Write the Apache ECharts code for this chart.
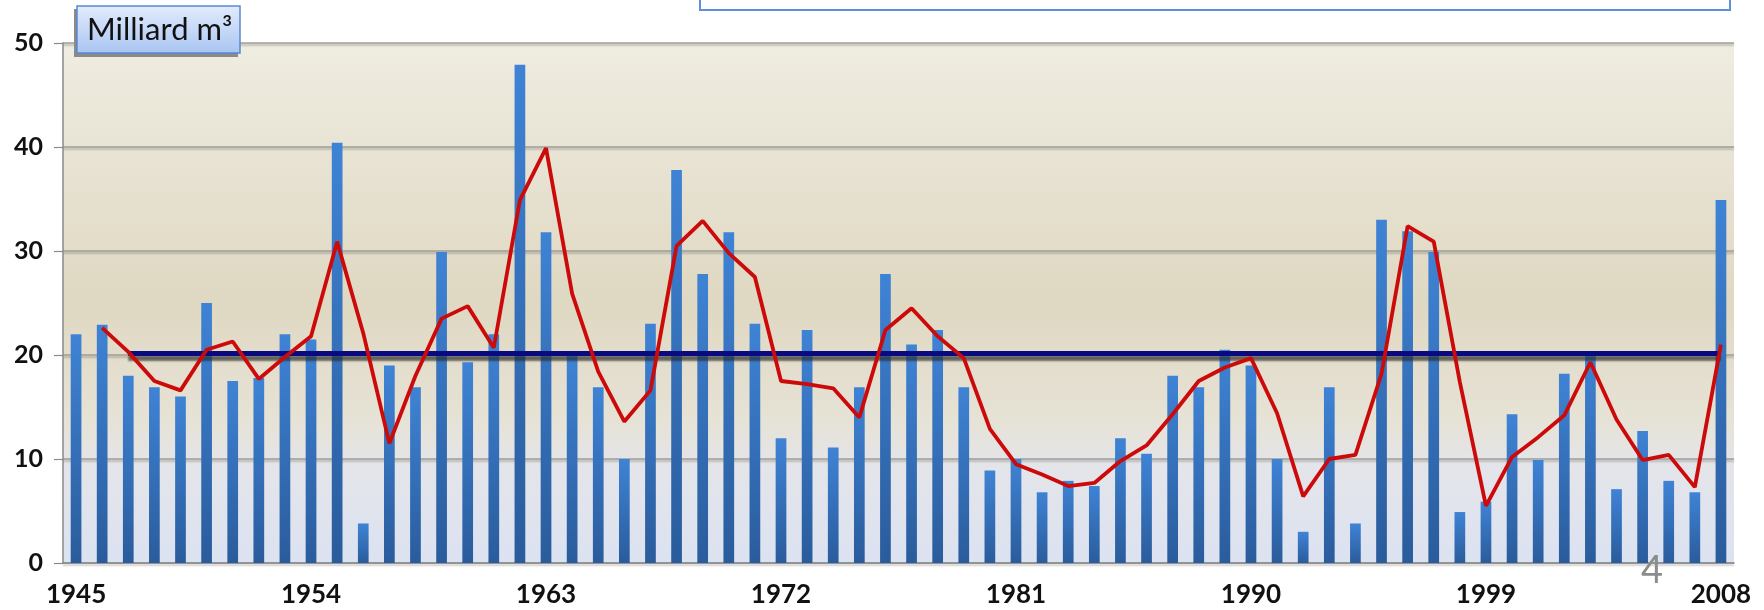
<!DOCTYPE html>
<html>
<head>
<meta charset="utf-8">
<script src="https://cdn.jsdelivr.net/npm/echarts@6/dist/echarts.min.js"></script>
<style>
  html, body { margin: 0; padding: 0; background: #ffffff; }
  #chart { width: 1764px; height: 610px; }
</style>
</head>
<body>
<div id="chart"></div>
<script>
// 年份
const years = []
for (let y = 1945; y <= 2008; y++) years.push(String(y))
// 年径流量（柱）
const flowValues = [
  22.0, 22.9, 18.0, 16.9, 16.0, 25.0, 17.5, 17.8, 22.0, 21.5,
  40.4, 3.8, 19.0, 16.9, 29.9, 19.3, 22.0, 47.9, 31.8, 20.0,
  16.9, 10.0, 23.0, 37.8, 27.8, 31.8, 23.0, 12.0, 22.4, 11.1,
  16.9, 27.8, 21.0, 22.4, 16.9, 8.9, 10.0, 6.8, 7.9, 7.4,
  12.0, 10.5, 18.0, 16.9, 20.5, 19.0, 10.0, 3.0, 16.9, 3.8,
  33.0, 31.9, 29.9, 4.9, 5.9, 14.3, 9.9, 18.2, 20.2, 7.1,
  12.7, 7.9, 6.8, 34.9
]
// 移动平均（红线），1945 无值
const trendValues = [
  null, 22.6, 20.3, 17.5, 16.6, 20.5, 21.3, 17.7, 19.8, 21.8,
  30.9, 22.1, 11.5, 18.0, 23.5, 24.7, 20.7, 34.9, 39.9, 25.9,
  18.4, 13.6, 16.6, 30.5, 32.9, 29.8, 27.5, 17.5, 17.2, 16.8,
  14.0, 22.4, 24.5, 21.8, 19.7, 12.9, 9.5, 8.5, 7.4, 7.7,
  9.8, 11.3, 14.3, 17.5, 18.8, 19.7, 14.4, 6.4, 10.0, 10.4,
  18.2, 32.4, 30.9, 17.4, 5.5, 10.2, 12.1, 14.2, 19.3, 13.8,
  9.9, 10.4, 7.3, 21.0
]
// 平均线
const meanLevel = 20.2
const meanFrom = '1947'
const meanTo = '2008'
// y 轴刻度
const yMin = 0
const yMax = 50
const yStep = 10

const labelFont = 'Lato, "Open Sans", sans-serif'

const getOptions = () => ({
  backgroundColor: '#ffffff',
  animation: false,
  grid: {
    left: 63,
    right: 30,
    top: 43,
    bottom: 47
  },
  xAxis: {
    type: 'category',
    data: years,
    boundaryGap: true,
    axisLine: {
      lineStyle: { color: '#8a8a8a', width: 1.5 }
    },
    axisTick: {
      interval: 0,
      length: 9,
      lineStyle: { color: '#8a8a8a', width: 1.2 }
    },
    axisLabel: {
      interval: 8,
      margin: 19,
      color: '#111',
      fontSize: 26,
      fontWeight: 'bold',
      fontFamily: labelFont
    },
    splitLine: { show: false }
  },
  yAxis: {
    type: 'value',
    min: yMin,
    max: yMax,
    interval: yStep,
    axisLine: {
      show: true,
      lineStyle: { color: '#8a8a8a', width: 1.5 }
    },
    axisTick: {
      show: true,
      length: 9,
      lineStyle: { color: '#8a8a8a', width: 1.2 }
    },
    axisLabel: {
      margin: 20,
      color: '#111',
      fontSize: 25,
      fontWeight: 'bold',
      fontFamily: labelFont
    },
    splitLine: {
      lineStyle: {
        color: '#9c9c98',
        width: 1.5,
        shadowColor: 'rgba(0,0,0,0.25)',
        shadowBlur: 2,
        shadowOffsetY: 2
      }
    },
    splitArea: { show: false }
  },
  graphic: [
    // 绘图区背景渐变
    {
      type: 'rect',
      z: -10,
      silent: true,
      shape: { x: 63, y: 43, width: 1671, height: 520 },
      style: {
        fill: new echarts.graphic.LinearGradient(0, 0, 0, 1, [
          { offset: 0, color: '#efece1' },
          { offset: 0.5, color: '#dfd8c2' },
          { offset: 0.72, color: '#e6e2d5' },
          { offset: 0.82, color: '#e4e5ea' },
          { offset: 1, color: '#dbe2f1' }
        ])
      }
    },
    // 右上方文本框（只露出下沿）
    {
      type: 'rect',
      silent: true,
      shape: { x: 700, y: -6, width: 1030, height: 16 },
      style: { fill: '#ffffff', stroke: '#5f8fd8', lineWidth: 2 }
    },
    // 单位框阴影
    {
      type: 'rect',
      silent: true,
      z: 10,
      shape: { x: 74, y: 9, width: 164, height: 48 },
      style: { fill: '#8a8a8a' }
    },
    // 单位框
    {
      type: 'rect',
      silent: true,
      z: 11,
      shape: { x: 77, y: 6, width: 163, height: 47 },
      style: {
        fill: new echarts.graphic.LinearGradient(0, 0, 0, 1, [
          { offset: 0, color: '#e2ecfc' },
          { offset: 1, color: '#a9c5f2' }
        ]),
        stroke: '#5b88d4',
        lineWidth: 1.5
      }
    },
    {
      type: 'text',
      silent: true,
      z: 12,
      x: 87,
      y: 30,
      style: {
        text: 'Milliard m³',
        fill: '#111',
        font: 'normal 31px Lato, sans-serif',
        verticalAlign: 'middle'
      }
    },
    // 页码
    {
      type: 'text',
      silent: true,
      z: 12,
      x: 1641,
      y: 571,
      style: {
        text: '4',
        fill: '#8c8c8c',
        font: 'normal 38px Lato, sans-serif',
        verticalAlign: 'middle'
      }
    }
  ],
  series: [{
    name: '年径流量',
    type: 'bar',
    data: flowValues,
    barWidth: '41%',
    z: 2,
    itemStyle: {
      color: new echarts.graphic.LinearGradient(0, 0, 0, 1, [
        { offset: 0, color: '#3f83d5' },
        { offset: 1, color: '#2a5c9c' }
      ])
    },
    markLine: {
      silent: true,
      symbol: 'none',
      z: 3,
      label: { show: false },
      lineStyle: {
        type: 'solid',
        color: '#0a0a80',
        width: 5,
        shadowColor: 'rgba(40,40,40,0.65)',
        shadowBlur: 2,
        shadowOffsetY: 5
      },
      data: [[
        { coord: [meanFrom, meanLevel] },
        { coord: [meanTo, meanLevel] }
      ]]
    }
  }, {
    name: '移动平均',
    type: 'line',
    data: trendValues,
    z: 5,
    symbol: 'none',
    connectNulls: false,
    lineStyle: {
      color: '#cc0a0a',
      width: 3.8
    }
  }]
})

const chart = echarts.init(document.getElementById('chart'), null, { renderer: 'canvas' })
chart.setOption(getOptions())
</script>
</body>
</html>
